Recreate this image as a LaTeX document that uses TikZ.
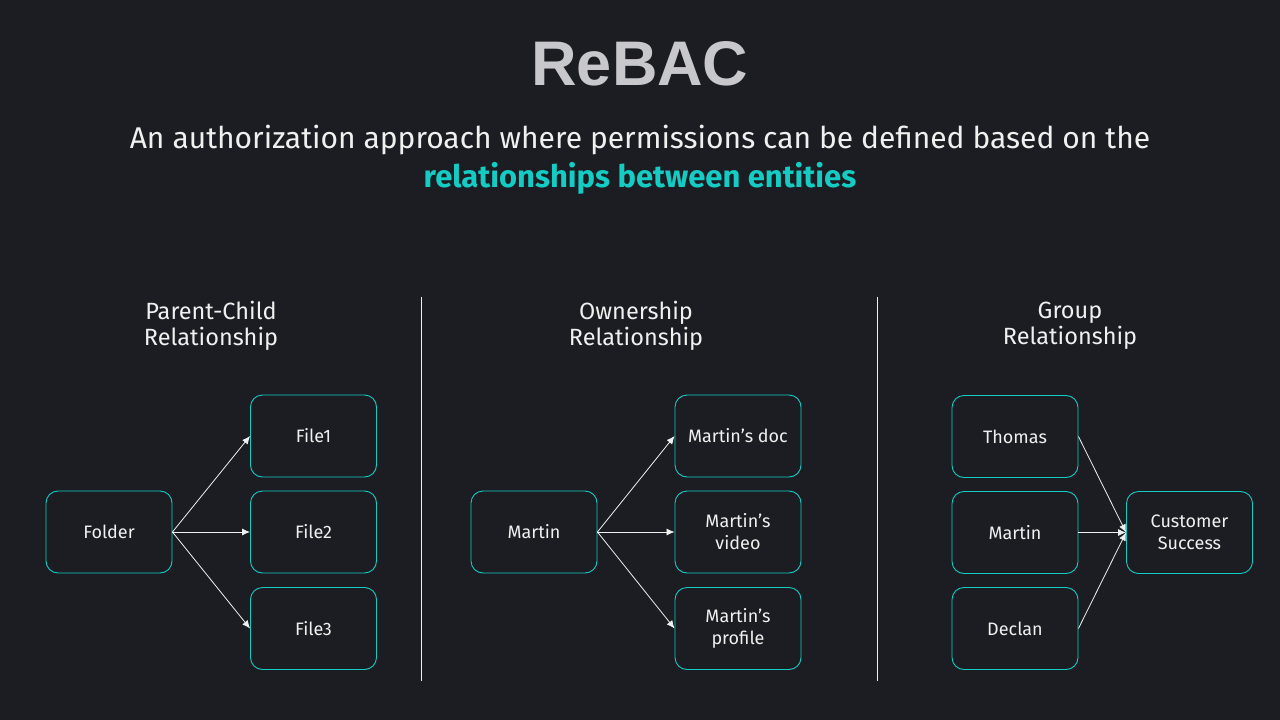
\documentclass[tikz,border=0pt]{standalone}
\usepackage{fontspec}
\setmainfont{Fira Sans}
\newfontfamily\titlefont{Liberation Sans}
\usetikzlibrary{arrows.meta}
\definecolor{bg}{HTML}{1C1D22}
\definecolor{teal}{HTML}{14CCC4}
\definecolor{txt}{HTML}{F0F0F0}
\definecolor{ttl}{HTML}{C8C8CC}
\tikzset{
  ent/.style={draw=teal, line width=0.9pt, rounded corners=12pt, minimum width=126pt, minimum height=82pt,
    align=center, text=txt, font=\fontsize{18}{22}\selectfont, inner sep=0pt},
  heading/.style={text=txt, align=center, font=\fontsize{23.5}{26}\selectfont},
  conn/.style={draw=txt, line width=0.8pt, -{Latex[length=8pt,width=7pt]}},
  divider/.style={draw=txt, line width=0.9pt}
}
\begin{document}
\begin{tikzpicture}[x=1pt,y=-1pt]
\fill[bg] (0,0) rectangle (1280,720);
\useasboundingbox (0,0) rectangle (1280,720);
\node (title) at (640,64) {\titlefont\bfseries\color{ttl}\fontsize{63}{66}\selectfont ReBAC};
\node (sub1) at (640,140) {\color{txt}\fontsize{30}{34}\selectfont An authorization approach where permissions can be defined based on the};
\node (sub2) at (640,178) {\color{teal}\fontsize{31}{34}\selectfont\bfseries relationships between entities};

\coordinate (d1a) at (421,297); \coordinate (d1b) at (421,681);
\coordinate (d2a) at (877,297); \coordinate (d2b) at (877,681);
\draw[divider] (d1a) -- (d1b);
\draw[divider] (d2a) -- (d2b);

\node[heading] (h1) at (211,326) {Parent-Child\\Relationship};
\node[heading] (h2) at (636,326) {Ownership\\Relationship};
\node[heading] (h3) at (1070,326) {Group\\Relationship};

% Parent-child
\node[ent] (folder) at (109,532) {Folder};
\node[ent] (file1) at (313.5,436) {File1};
\node[ent] (file2) at (313.5,532) {File2};
\node[ent] (file3) at (313.5,628.5) {File3};
\draw[conn] (folder.east) -- (file1.west);
\draw[conn] (folder.east) -- (file2.west);
\draw[conn] (folder.east) -- (file3.west);

% Ownership
\node[ent] (martin) at (534,532) {Martin};
\node[ent] (doc) at (738,436) {Martin’s doc};
\node[ent] (video) at (738,532) {Martin’s\\video};
\node[ent] (profile) at (738,628.5) {Martin’s\\profile};
\draw[conn] (martin.east) -- (doc.west);
\draw[conn] (martin.east) -- (video.west);
\draw[conn] (martin.east) -- (profile.west);

% Group
\node[ent] (thomas) at (1015,436.5) {Thomas};
\node[ent] (martin2) at (1015,532.5) {Martin};
\node[ent] (declan) at (1015,628.5) {Declan};
\node[ent] (cs) at (1189.5,532.5) {Customer\\Success};
\draw[conn] (thomas.east) -- (cs.west);
\draw[conn] (martin2.east) -- (cs.west);
\draw[conn] (declan.east) -- (cs.west);
\end{tikzpicture}
\end{document}
